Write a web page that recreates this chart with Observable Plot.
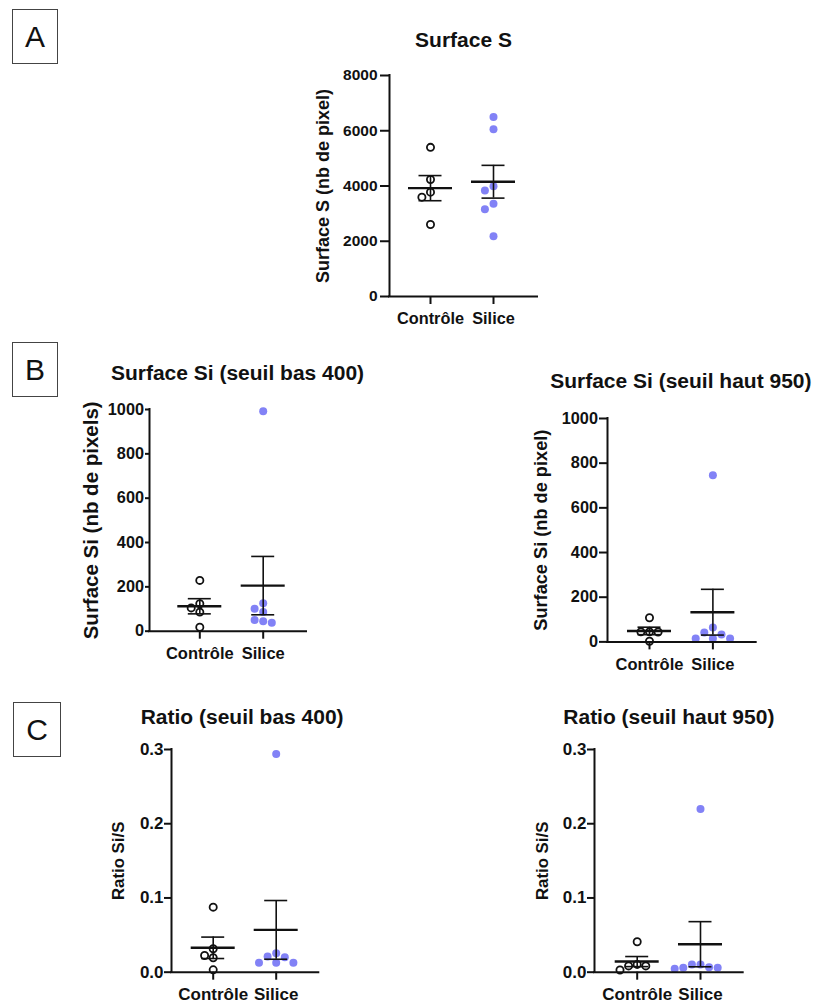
<!DOCTYPE html>
<html>
<head>
<meta charset="utf-8">
<script src="https://cdn.jsdelivr.net/npm/d3@7"></script>
<script src="https://cdn.jsdelivr.net/npm/@observablehq/plot@0.6"></script>
<style>
  body { margin: 0; background: #fff; }
  #fig { position: relative; width: 819px; height: 1003px; overflow: hidden; background: #fff;
         font-family: "Liberation Sans", Arial, Helvetica, sans-serif; }
  .box { position: absolute; box-sizing: border-box; border: 1.5px solid #444; background: #fff;
         display: flex; align-items: center; justify-content: center;
         font-family: "Liberation Sans", Arial, sans-serif; font-size: 30px; color: #111; }
  .panel { position: absolute; }
</style>
</head>
<body>
<div id="fig"></div>
<script>
// ---------------- data ----------------
const groups = ["Contrôle", "Silice"];

const surfaceS_controle = [5400, 4234, 3776, 3595, 2606];
const surfaceS_silice   = [6502, 6055, 3993, 3836, 3353, 3160, 2183];

const siBas_controle = [229, 124, 105, 86, 18];
const siBas_silice   = [992, 126, 101, 86, 51, 45, 38];

const siHaut_controle = [108, 45, 45, 44, 3];
const siHaut_silice   = [746, 64, 42, 33, 15, 15, 15];

const ratioBas_controle = [0.0876, 0.0315, 0.0225, 0.0194, 0.0032];
const ratioBas_silice   = [0.294, 0.0256, 0.0211, 0.0202, 0.0127, 0.0127, 0.0127];

const ratioHaut_controle = [0.041, 0.0105, 0.0085, 0.0085, 0.003];
const ratioHaut_silice   = [0.22, 0.0104, 0.0104, 0.0067, 0.0059, 0.0059, 0.0045];

const ticksSurfaceS = [0, 2000, 4000, 6000, 8000];
const ticksSi       = [0, 200, 400, 600, 800, 1000];
const ticksRatio    = [0, 0.1, 0.2, 0.3];

const titles = {
  A: "Surface S",
  B1: "Surface Si (seuil bas 400)",
  B2: "Surface Si (seuil haut 950)",
  C1: "Ratio (seuil bas 400)",
  C2: "Ratio (seuil haut 950)"
};
const yLabels = {
  A: "Surface S (nb de pixel)",
  B1: "Surface Si (nb de pixels)",
  B2: "Surface Si (nb de pixel)",
  C1: "Ratio Si/S",
  C2: "Ratio Si/S"
};
const panelLetters = ["A", "B", "C"];

// ---------------- layout helpers ----------------
const FONT = '"Liberation Sans", Arial, Helvetica, sans-serif';
const BLUE = "#8282f6";

// GraphPad-like scatter: place each point at the horizontal slot nearest the centre that does not overlap
function swarm(values, yPix, step, minDist) {
  const order = d3.range(values.length).sort((a, b) => values[b] - values[a]);
  const placed = [];
  const offs = new Array(values.length).fill(0);
  const slots = [0, -1, 1, -2, 2, -3, 3, -4, 4];
  for (const i of order) {
    const py = yPix(values[i]);
    for (const k of slots) {
      const px = k * step;
      if (placed.every(p => Math.hypot(p.x - px, p.y - py) >= minDist)) {
        placed.push({x: px, y: py});
        offs[i] = px;
        break;
      }
    }
  }
  return offs;
}

function panel(cfg) {
  const {ctrl, sil, yDomain, yTicks, yFormat, axisX, cX, sX, endX, y0, yTop} = cfg;
  const left = axisX - 110, top = yTop - 52;
  const width = endX - left + 90;
  const height = y0 - top + 40;
  const spacing = sX - cX;
  const xDomain = [1 - (cX - axisX) / spacing, 2 + (endX - sX) / spacing];
  const yPix = d3.scaleLinear(yDomain, [y0, yTop]);

  const pts = [];
  [[ctrl, 1], [sil, 2]].forEach(([vals, g]) => {
    const offs = swarm(vals, yPix, 8.6, 7.8);
    vals.forEach((v, i) => pts.push({g, v, x: g + offs[i] / spacing}));
  });
  const stats = [[ctrl, 1], [sil, 2]].map(([vals, g]) => {
    const m = d3.mean(vals);
    const se = d3.deviation(vals) / Math.sqrt(vals.length);
    return {g, m, lo: m - se, hi: m + se};
  });
  const meanHalf = 22 / spacing, capHalf = 11.5 / spacing;

  const svg = Plot.plot({
    width, height,
    marginLeft: axisX - left,
    marginRight: width - (endX - left),
    marginTop: yTop - top,
    marginBottom: height - (y0 - top),
    x: {domain: xDomain},
    y: {domain: yDomain},
    style: {fontFamily: FONT, fontWeight: "bold", background: "transparent", maxWidth: "none", overflow: "visible", color: "#111"},
    marks: [
      Plot.dot(pts.filter(d => d.g === 1), {x: "x", y: "v", r: 3.6, fill: "none", stroke: "#111", strokeWidth: 1.8}),
      Plot.dot(pts.filter(d => d.g === 2), {x: "x", y: "v", r: 4, fill: BLUE, stroke: "none"}),
      Plot.ruleX(stats, {x: "g", y1: "lo", y2: "hi", stroke: "#111", strokeWidth: 1.6}),
      Plot.ruleY(stats, {y: "m", x1: d => d.g - meanHalf, x2: d => d.g + meanHalf, stroke: "#111", strokeWidth: 2.4}),
      Plot.ruleY(stats, {y: "hi", x1: d => d.g - capHalf, x2: d => d.g + capHalf, stroke: "#111", strokeWidth: 1.6}),
      Plot.ruleY(stats, {y: "lo", x1: d => d.g - capHalf, x2: d => d.g + capHalf, stroke: "#111", strokeWidth: 1.6}),
      Plot.ruleY([yDomain[0]], {stroke: "#111", strokeWidth: 2, strokeLinecap: "square"}),
      Plot.ruleX([xDomain[0]], {stroke: "#111", strokeWidth: 2, strokeLinecap: "square"}),
      Plot.axisY({ticks: yTicks, tickFormat: yFormat, tickSize: cfg.yTickSize, tickPadding: cfg.yTickPad,
                  strokeWidth: 2, fontSize: cfg.yTickFont, fontWeight: "bold", label: null, fill: "#111"}),
      Plot.axisX({ticks: [1, 2], tickFormat: d => groups[d - 1], tickSize: 8, tickPadding: cfg.xTickPad,
                  strokeWidth: 2, fontSize: cfg.xTickFont, fontWeight: "bold", label: null, fill: "#111"}),
      Plot.text([cfg.title], {frameAnchor: "top", dx: cfg.titleDx, dy: cfg.titleDy, lineAnchor: "bottom",
                  textAnchor: "middle", fontSize: 21, fontWeight: "bold", fill: "#111"}),
      Plot.text([cfg.ylabel], {frameAnchor: "left", rotate: -90, dx: cfg.labelDx, dy: cfg.labelDy,
                  textAnchor: "middle", lineAnchor: "middle", fontSize: cfg.labelFont, fontWeight: "bold", fill: "#111"})
    ]
  });
  const wrap = document.createElement("div");
  wrap.className = "panel";
  wrap.style.left = left + "px";
  wrap.style.top = top + "px";
  wrap.style.width = width + "px";
  wrap.style.height = height + "px";
  wrap.appendChild(svg);
  return wrap;
}

const fig = document.getElementById("fig");
const intFmt = d3.format("d");
const ratioFmt = d3.format(".1f");

const configs = [
  {title: titles.A, ylabel: yLabels.A, ctrl: surfaceS_controle, sil: surfaceS_silice,
   yDomain: [0, 8000], yTicks: ticksSurfaceS, yFormat: intFmt,
   axisX: 389, cX: 430, sX: 493, endX: 537, y0: 296, yTop: 75,
   titleDx: 0, titleDy: -28.5, labelDx: -66, labelDy: 0, labelFont: 18,
   yTickSize: 9, yTickPad: 3, yTickFont: 15.5, xTickFont: 16.3, xTickPad: 8.4},
  {title: titles.B1, ylabel: yLabels.B1, ctrl: siBas_controle, sil: siBas_silice,
   yDomain: [0, 1000], yTicks: ticksSi, yFormat: intFmt,
   axisX: 149, cX: 199.3, sX: 262.7, endX: 306, y0: 630.7, yTop: 409,
   titleDx: 9.5, titleDy: -29, labelDx: -58.5, labelDy: 0, labelFont: 20.5,
   yTickSize: 4, yTickPad: 1.5, yTickFont: 16.3, xTickFont: 16.5, xTickPad: 8.3},
  {title: titles.B2, ylabel: yLabels.B2, ctrl: siHaut_controle, sil: siHaut_silice,
   yDomain: [0, 1000], yTicks: ticksSi, yFormat: intFmt,
   axisX: 607.3, cX: 649.3, sX: 712.7, endX: 756, y0: 641.7, yTop: 418.3,
   titleDx: -1, titleDy: -30, labelDx: -66.5, labelDy: 0, labelFont: 18.2,
   yTickSize: 8, yTickPad: 1.5, yTickFont: 16.3, xTickFont: 16.5, xTickPad: 8.3},
  {title: titles.C1, ylabel: yLabels.C1, ctrl: ratioBas_controle, sil: ratioBas_silice,
   yDomain: [0, 0.3], yTicks: ticksRatio, yFormat: ratioFmt,
   axisX: 171, cX: 212.7, sX: 275.7, endX: 318.3, y0: 971.7, yTop: 749,
   titleDx: -3, titleDy: -25.7, labelDx: -52.7, labelDy: 0, labelFont: 16.8,
   yTickSize: 7, yTickPad: 1, yTickFont: 17, xTickFont: 17, xTickPad: 7.9},
  {title: titles.C2, ylabel: yLabels.C2, ctrl: ratioHaut_controle, sil: ratioHaut_silice,
   yDomain: [0, 0.3], yTicks: ticksRatio, yFormat: ratioFmt,
   axisX: 594, cX: 636.7, sX: 700, endX: 742.7, y0: 971.7, yTop: 749,
   titleDx: 0, titleDy: -25.7, labelDx: -52.3, labelDy: 0, labelFont: 16.8,
   yTickSize: 7, yTickPad: 1, yTickFont: 17, xTickFont: 17, xTickPad: 7.9}
];
configs.forEach(c => fig.appendChild(panel(c)));

// panel letter boxes
const boxes = [
  {left: 12, top: 9, w: 46, h: 55},
  {left: 12, top: 342, w: 46, h: 55},
  {left: 13, top: 702, w: 48, h: 55}
];
boxes.forEach((b, i) => {
  const d = document.createElement("div");
  d.className = "box";
  d.style.left = b.left + "px";
  d.style.top = b.top + "px";
  d.style.width = b.w + "px";
  d.style.height = b.h + "px";
  d.textContent = panelLetters[i];
  fig.appendChild(d);
});
</script>
</body>
</html>
